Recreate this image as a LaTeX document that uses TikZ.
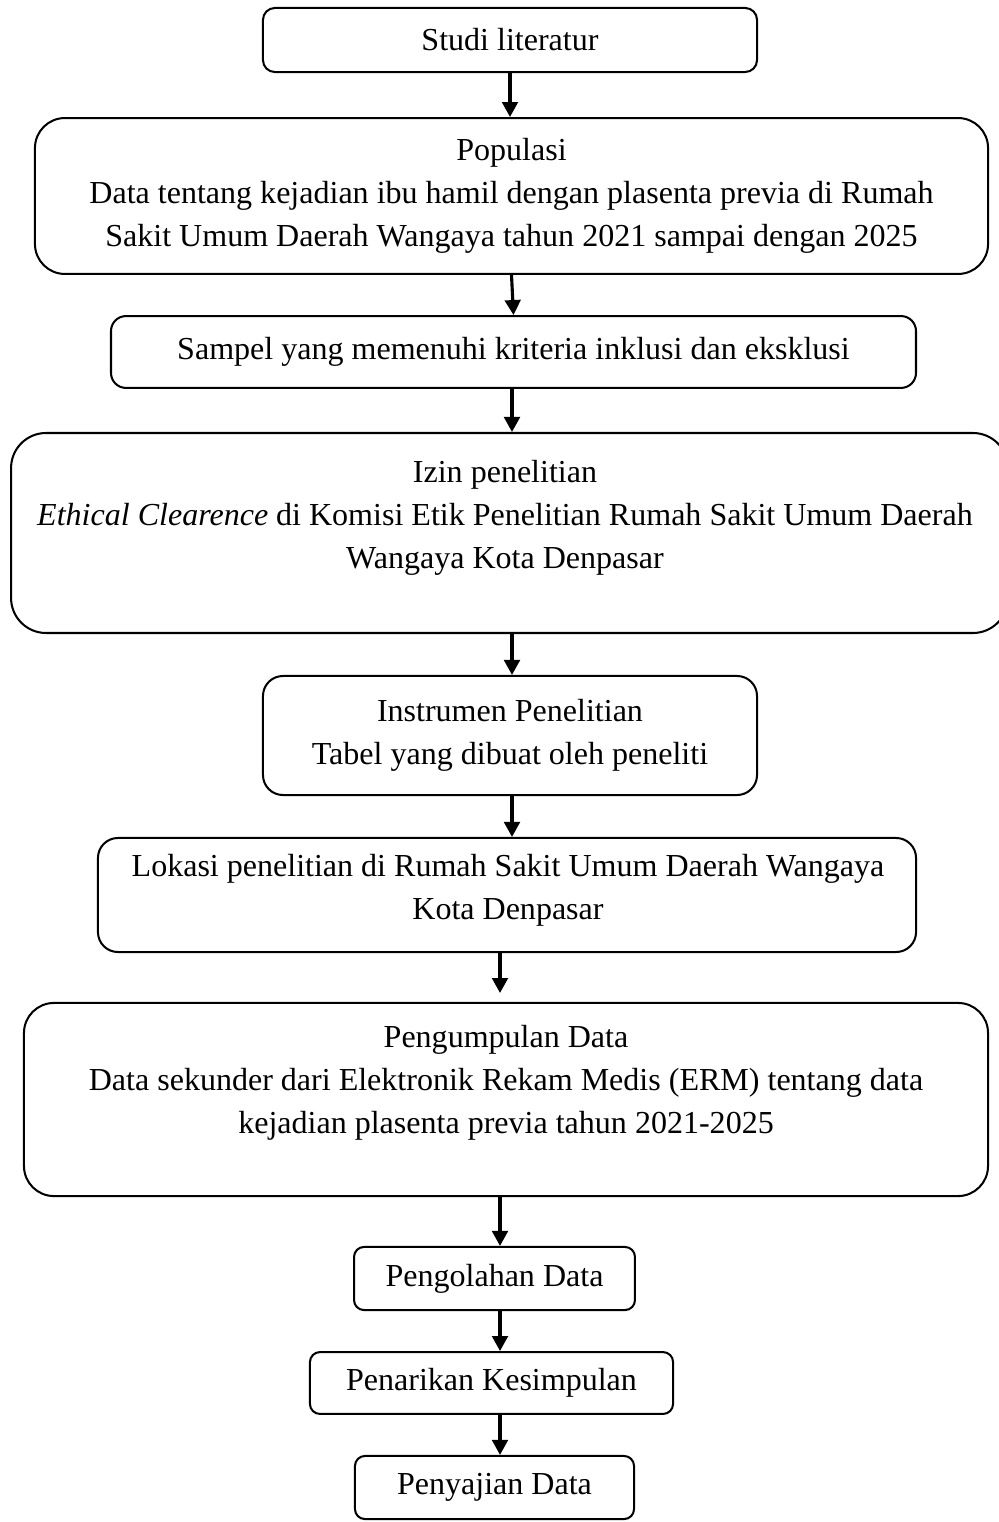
\documentclass[tikz,border=0pt]{standalone}
\usepackage{fontspec}
\setmainfont{Liberation Serif}
\usetikzlibrary{arrows.meta}

\tikzset{every picture/.style={line width=0.65pt}}
\tikzset{
  flowbox/.style={draw, line width=0.65pt, align=center, inner sep=0pt, font=\fontsize{10.25}{13.8}\selectfont},
  flowtext/.style={align=center, inner sep=0pt, font=\fontsize{10.25}{13.8}\selectfont},
  flowarrow/.style={line width=1pt, -{Triangle[length=4.8pt,width=5pt]}}
}

\begin{document}
\begin{tikzpicture}[x=0.32pt,y=0.32pt,yscale=-1,xscale=1]
\useasboundingbox (0,0) rectangle (999,1522);

% Studi literatur
\node [flowbox, rounded corners=3.8pt, minimum width=158.1pt, minimum height=20.5pt] (studi) at (510,40) {Studi literatur};
% Populasi
\node [flowbox, rounded corners=9.6pt, minimum width=305pt, minimum height=49.9pt] (populasi) at (511.5,196) {Populasi\\Data tentang kejadian ibu hamil dengan plasenta previa di Rumah\\Sakit Umum Daerah Wangaya tahun 2021 sampai dengan 2025};
% Sampel
\node [flowbox, rounded corners=4.8pt, minimum width=257.6pt, minimum height=23pt] (sampel) at (513.5,352) {Sampel yang memenuhi kriteria inklusi dan eksklusi};
% Izin penelitian
\node [flowbox, rounded corners=11.2pt, minimum width=319pt, minimum height=64pt] (izin) at (509.5,533) {};
\node [flowtext] (izin-t) at (505,518) {Izin penelitian\\\textit{Ethical Clearence} di Komisi Etik Penelitian Rumah Sakit Umum Daerah\\Wangaya Kota Denpasar};
% Instrumen
\node [flowbox, rounded corners=6.4pt, minimum width=158.1pt, minimum height=38.1pt] (instrumen) at (510,735.5) {Instrumen Penelitian\\Tabel yang dibuat oleh peneliti};
% Lokasi
\node [flowbox, rounded corners=6.4pt, minimum width=261.8pt, minimum height=36.5pt] (lokasi) at (507,895) {};
\node [flowtext] (lokasi-t) at (508,890) {Lokasi penelitian di Rumah Sakit Umum Daerah Wangaya\\Kota Denpasar};
% Pengumpulan Data
\node [flowbox, rounded corners=9.6pt, minimum width=308.5pt, minimum height=61.8pt] (kumpul) at (506,1099.5) {};
\node [flowtext] (kumpul-t) at (506,1083) {Pengumpulan Data\\Data sekunder dari Elektronik Rekam Medis (ERM) tentang data\\kejadian plasenta previa tahun 2021-2025};
% Pengolahan, Penarikan, Penyajian
\node [flowbox, rounded corners=3.2pt, minimum width=89.9pt, minimum height=20.2pt] (olah) at (494.5,1278.5) {Pengolahan Data};
\node [flowbox, rounded corners=3.2pt, minimum width=116.2pt, minimum height=19.8pt] (tarik) at (491.5,1383) {Penarikan Kesimpulan};
\node [flowbox, rounded corners=3.2pt, minimum width=89.3pt, minimum height=20.2pt] (saji) at (494.5,1487.5) {Penyajian Data};

% arrows
\coordinate (col) at (500,0);
\coordinate (gap) at (500,993);
\draw [flowarrow] (studi.south) -- (studi.south |- populasi.north);
\draw [flowarrow] (populasi.south) -- (sampel.north);
\draw [flowarrow] (sampel.south) ++(-1.5,0) -- (izin.north -| 512,0);
\draw [flowarrow] (izin.south -| 512,0) -- (instrumen.north -| 512,0);
\draw [flowarrow] (instrumen.south -| 512,0) -- (lokasi.north -| 512,0);
\draw [flowarrow] (lokasi.south -| gap) -- (gap);
\draw [flowarrow] (kumpul.south -| col) -- (olah.north -| col);
\draw [flowarrow] (olah.south -| col) -- (tarik.north -| col);
\draw [flowarrow] (tarik.south -| col) -- (saji.north -| col);

\end{tikzpicture}
\end{document}
